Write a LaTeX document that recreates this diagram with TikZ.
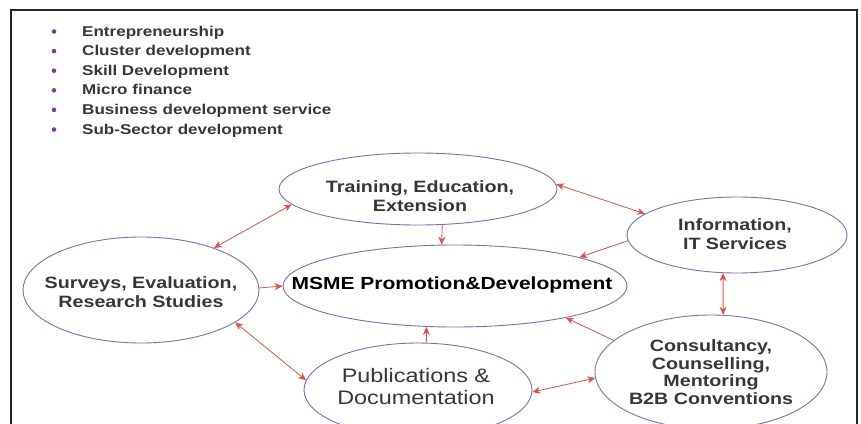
\documentclass[tikz,border=0pt]{standalone}
\usepackage{fontspec}
\setmainfont{Liberation Sans}[FakeStretch=1.2]
\usepackage{xcolor}
\usetikzlibrary{shapes.geometric}
\usetikzlibrary{arrows.meta}
\definecolor{rim}{RGB}{125,112,175}
\definecolor{arr}{RGB}{218,82,72}
\definecolor{dot}{RGB}{125,60,160}
\definecolor{ink}{RGB}{55,55,55}
\newcommand{\lst}{\fontsize{14.2}{17}\selectfont\bfseries}
\newcommand{\etx}{\fontsize{16.4}{19.5}\selectfont\bfseries}

\begin{document}
\begin{tikzpicture}[x=1pt,y=-1pt,every node/.style={inner sep=0pt},
   blob/.style={ellipse,draw=rim,line width=0.9pt},
   btext/.style={align=center,text=ink,font=\etx},
   link/.style={draw=arr,line width=0.8pt,-{Stealth[length=8pt,width=7pt]}},
   dlink/.style={draw=arr,line width=0.8pt,{Stealth[length=8pt,width=7pt]}-{Stealth[length=8pt,width=7pt]}}]

 \useasboundingbox (0,0) rectangle (861,423);
 \clip (0,0) rectangle (861,423);
 \fill[white] (0,0) rectangle (861,423);
 \draw[line width=2.4pt,draw=black!85] (11,440) -- (11,10) -- (857,10) -- (857,440);

 \foreach \t [count=\i] in {Entrepreneurship,Cluster development,Skill Development,
                           Micro finance,Business development service,Sub-Sector development}
 {
  \node[circle,fill=dot,minimum size=4.6pt] (b\i) at (54,{31.5+19.6*(\i-1)}) {};
  \node[anchor=base west,text=ink,font=\lst] (l\i) at (82,{36+19.6*(\i-1)}) {\t};
 }

 \draw (418,189) node[blob,minimum width=278pt,minimum height=72pt] (tr) {};
 \draw (455,286) node[blob,minimum width=344pt,minimum height=82pt] (ms) {};
 \draw (141,290) node[blob,minimum width=236pt,minimum height=106pt] (sv) {};
 \draw (418,390) node[blob,minimum width=228pt,minimum height=94pt] (pb) {};
 \draw (737,235) node[blob,minimum width=220pt,minimum height=76pt] (inf) {};
 \draw (711,372) node[blob,minimum width=232pt,minimum height=114pt] (cs) {};

 \draw (420,196) node[btext] (trt) {Training, Education,\\Extension};
 \draw (452,285) node[align=center,font=\fontsize{17.5}{20}\selectfont\bfseries] (mst)
              {MSME Promotion\&Development};
 \draw (141,292) node[btext] (svt) {Surveys, Evaluation,\\Research Studies};
 \draw (416,387) node[align=center,text=ink,font=\fontsize{19.5}{22}\selectfont] (pbt)
              {Publications \&\\Documentation};
 \draw (735,234) node[btext] (inft) {Information,\\IT Services};
 \draw (711,372) node[btext,font=\fontsize{16.4}{17.7}\selectfont\bfseries] (cst)
              {Consultancy,\\Counselling,\\Mentoring\\B2B Conventions};

 \draw[dlink] (sv.30)  -- (tr.187);
 \draw[link]  (sv.1)   -- (ms.180);
 \draw[dlink] (sv.341) -- (pb.175);
 \draw[link]  (tr.304) -- (ms.108);
 \draw[dlink] (tr.2)   -- (inf.167);
 \draw[link]  (inf.183) -- (ms.13);
 \draw[dlink] (inf.250) -- (cs.78);
 \draw[link]  (cs.162) -- (ms.344);
 \draw[link]  (pb.80)  -- (ms.235);
 \draw[dlink] (pb.359) -- (cs.183);

\end{tikzpicture}
\end{document}
